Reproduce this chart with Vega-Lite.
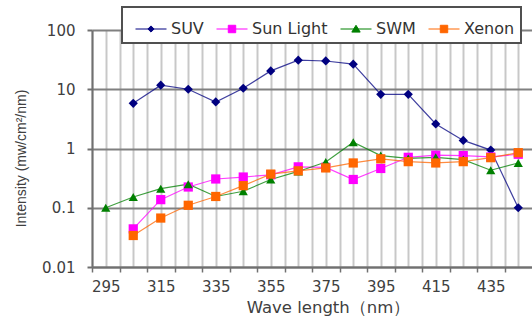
{
  "$schema": "https://vega.github.io/schema/vega-lite/v6.json",
  "width": 440,
  "height": 237,
  "autosize": {"type": "none"},
  "padding": {"left": 92, "top": 30, "right": 0, "bottom": 53},
  "background": "white",
  "config": {
    "font": "DejaVu Sans",
    "view": {"stroke": null},
    "axis": {"labelColor": "#404040", "titleColor": "#404040", "labelFontWeight": "normal", "titleFontWeight": "normal"}
  },
  "data": {
    "values": [
      {"wl": 305, "series": "SUV", "v": 5.8},
      {"wl": 315, "series": "SUV", "v": 11.7},
      {"wl": 325, "series": "SUV", "v": 10},
      {"wl": 335, "series": "SUV", "v": 6.1},
      {"wl": 345, "series": "SUV", "v": 10.4},
      {"wl": 355, "series": "SUV", "v": 20.4},
      {"wl": 365, "series": "SUV", "v": 31},
      {"wl": 375, "series": "SUV", "v": 30},
      {"wl": 385, "series": "SUV", "v": 26.5},
      {"wl": 395, "series": "SUV", "v": 8.2},
      {"wl": 405, "series": "SUV", "v": 8.2},
      {"wl": 415, "series": "SUV", "v": 2.6},
      {"wl": 425, "series": "SUV", "v": 1.37},
      {"wl": 435, "series": "SUV", "v": 0.94},
      {"wl": 445, "series": "SUV", "v": 0.1},
      {"wl": 305, "series": "Sun Light", "v": 0.044},
      {"wl": 315, "series": "Sun Light", "v": 0.137},
      {"wl": 325, "series": "Sun Light", "v": 0.224},
      {"wl": 335, "series": "Sun Light", "v": 0.306},
      {"wl": 345, "series": "Sun Light", "v": 0.33},
      {"wl": 355, "series": "Sun Light", "v": 0.36},
      {"wl": 365, "series": "Sun Light", "v": 0.49},
      {"wl": 375, "series": "Sun Light", "v": 0.48},
      {"wl": 385, "series": "Sun Light", "v": 0.3},
      {"wl": 395, "series": "Sun Light", "v": 0.46},
      {"wl": 405, "series": "Sun Light", "v": 0.71},
      {"wl": 415, "series": "Sun Light", "v": 0.77},
      {"wl": 425, "series": "Sun Light", "v": 0.76},
      {"wl": 435, "series": "Sun Light", "v": 0.72},
      {"wl": 445, "series": "Sun Light", "v": 0.8},
      {"wl": 295, "series": "SWM", "v": 0.1},
      {"wl": 305, "series": "SWM", "v": 0.152},
      {"wl": 315, "series": "SWM", "v": 0.21},
      {"wl": 325, "series": "SWM", "v": 0.25},
      {"wl": 335, "series": "SWM", "v": 0.155},
      {"wl": 345, "series": "SWM", "v": 0.19},
      {"wl": 355, "series": "SWM", "v": 0.3},
      {"wl": 365, "series": "SWM", "v": 0.41},
      {"wl": 375, "series": "SWM", "v": 0.59},
      {"wl": 385, "series": "SWM", "v": 1.28},
      {"wl": 395, "series": "SWM", "v": 0.76},
      {"wl": 405, "series": "SWM", "v": 0.68},
      {"wl": 415, "series": "SWM", "v": 0.71},
      {"wl": 425, "series": "SWM", "v": 0.65},
      {"wl": 435, "series": "SWM", "v": 0.43},
      {"wl": 445, "series": "SWM", "v": 0.57},
      {"wl": 305, "series": "Xenon", "v": 0.034},
      {"wl": 315, "series": "Xenon", "v": 0.067},
      {"wl": 325, "series": "Xenon", "v": 0.11},
      {"wl": 335, "series": "Xenon", "v": 0.155},
      {"wl": 345, "series": "Xenon", "v": 0.236},
      {"wl": 355, "series": "Xenon", "v": 0.37},
      {"wl": 365, "series": "Xenon", "v": 0.42},
      {"wl": 375, "series": "Xenon", "v": 0.47},
      {"wl": 385, "series": "Xenon", "v": 0.57},
      {"wl": 395, "series": "Xenon", "v": 0.67},
      {"wl": 405, "series": "Xenon", "v": 0.6},
      {"wl": 415, "series": "Xenon", "v": 0.57},
      {"wl": 425, "series": "Xenon", "v": 0.6},
      {"wl": 435, "series": "Xenon", "v": 0.7},
      {"wl": 445, "series": "Xenon", "v": 0.85}
    ]
  },
  "encoding": {
    "x": {
      "field": "wl", "type": "quantitative",
      "scale": {"domain": [290, 450], "nice": false, "zero": false},
      "axis": {
        "title": "Wave length（nm）",
        "values": [290,295,300,305,310,315,320,325,330,335,340,345,350,355,360,365,370,375,380,385,390,395,400,405,410,415,420,425,430,435,440,445],
        "labelExpr": "(datum.value - 295) % 20 === 0 ? datum.label : ''",
        "labelFontSize": 15,
        "labelPadding": 7,
        "labelFlush": false,
        "grid": true,
        "gridColor": "#c8c8c8",
        "gridWidth": 2,
        "domainColor": "#707070",
        "domainWidth": 2,
        "tickColor": "#707070",
        "tickWidth": 1.5,
        "tickSize": 5,
        "tickOpacity": {"condition": {"test": "datum.value % 10 === 0", "value": 1}, "value": 0},
        "titleFontSize": 16.5,
        "titleX": 236,
        "titleY": 32,
        "titleBaseline": "top",
        "titleAlign": "center"
      }
    },
    "y": {
      "field": "v", "type": "quantitative",
      "scale": {"type": "log", "domain": [0.01, 100], "nice": false},
      "axis": {
        "title": "Intensity (mw/cm²/nm)",
        "values": [0.01, 0.1, 1, 10, 100],
        "format": "~g",
        "labelFontSize": 15,
        "labelPadding": 12,
        "tickSize": 5,
        "tickColor": "#707070",
        "tickWidth": 2,
        "grid": true,
        "gridColor": "#808080",
        "gridWidth": 2,
        "domainColor": "#707070",
        "domainWidth": 2,
        "titleFont": "Liberation Sans",
        "titleFontSize": 14,
        "titlePadding": 13,
        "titleY": 128
      }
    }
  },
  "layer": [
    {
      "mark": {"type": "line", "strokeWidth": 1.2, "opacity": 0.75},
      "encoding": {
        "color": {
          "field": "series", "type": "nominal",
          "scale": {"domain": ["SUV", "Sun Light", "SWM", "Xenon"], "range": ["#000080", "#ff00ff", "#008000", "#ff6600"]},
          "legend": null
        }
      }
    },
    {
      "mark": {"type": "point", "filled": true, "opacity": 1, "size": 85},
      "encoding": {
        "color": {"field": "series", "type": "nominal", "legend": null},
        "shape": {
          "field": "series", "type": "nominal",
          "scale": {"domain": ["SUV", "Sun Light", "SWM", "Xenon"], "range": ["diamond", "square", "triangle-up", "square"]},
          "legend": null
        }
      }
    },
    {
      "transform": [{"filter": "datum.v < 0"}],
      "mark": {"type": "point", "filled": true, "opacity": 1},
      "encoding": {
        "shape": {
          "field": "series", "type": "nominal",
          "scale": {"domain": ["SUV", "Sun Light", "SWM", "Xenon"], "range": ["M-1,0H1M0,-0.2L0.2,0L0,0.2L-0.2,0Z", "M-1,0H1M-0.24,-0.24H0.24V0.24H-0.24Z", "M-1,0H1M0,-0.24L0.27,0.2H-0.27Z", "M-1,0H1M-0.24,-0.24H0.24V0.24H-0.24Z"]},
          "legend": {
            "title": null,
            "orient": "none",
            "legendX": 30,
            "legendY": -23,
            "direction": "horizontal",
            "fillColor": "white",
            "strokeColor": "#505050",
            "padding": 6,
            "symbolSize": 961,
            "symbolStrokeWidth": 1,
            "symbolOffset": 7,
            "labelFontSize": 16,
            "labelFont": "DejaVu Sans",
            "labelColor": "#333333",
            "labelOffset": 4,
            "columnPadding": 5,
            "encoding": {
              "legend": {"strokeWidth": {"value": 2}},
              "symbols": {
                "fill": {"value": {"expr": "datum.value === 'SUV' ? '#000080' : datum.value === 'Sun Light' ? '#ff00ff' : datum.value === 'SWM' ? '#008000' : '#ff6600'"}},
                "stroke": {"value": {"expr": "datum.value === 'SUV' ? '#000080' : datum.value === 'Sun Light' ? '#ff00ff' : datum.value === 'SWM' ? '#008000' : '#ff6600'"}},
                "opacity": {"value": 1}
              }
            }
          }
        }
      }
    }
  ],
  "resolve": {"scale": {"shape": "independent"}}
}
